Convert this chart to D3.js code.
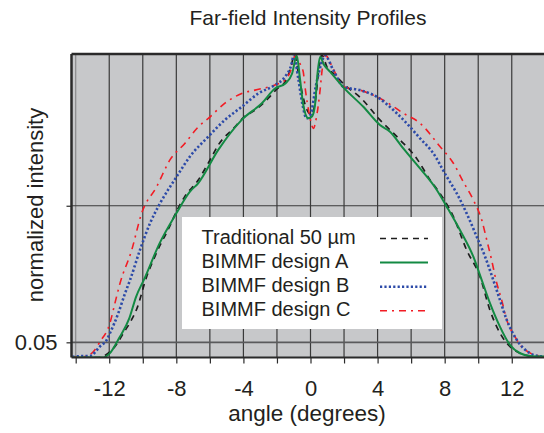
<!DOCTYPE html>
<html>
<head>
<meta charset="utf-8">
<script src="https://cdn.jsdelivr.net/npm/d3@7"></script>
<style>
  body { margin: 0; background: #fff; }
  svg { display: block; }
  text { font-family: "Liberation Sans", Arial, Helvetica, sans-serif; fill: #231f20; }
</style>
</head>
<body>
<svg id="chart" width="544" height="433"></svg>
<script>
// Far-field intensity profiles (normalized intensity vs. angle in degrees)
const angleTrad = [-14.2, -12.6, -12.06, -11.6, -11.16, -10.76, -10.36, -9.77, -9.3, -8.97, -8.5, -8, -7.5, -6.69, -6, -5.5, -4.5, -4, -3.31, -2.5, -2, -1.5, -1.2, -0.95, -0.7, -0.45, -0.2, 0.05, 0.3, 0.5, 0.67, 1.0, 1.36, 2, 3, 4.14, 5.34, 6.33, 7.13, 7.72, 8.52, 9.31, 10.11, 10.7, 11.3, 11.9, 12.49, 13.2, 14.2];
const traditional = [0.0, 0.0, 0.014, 0.04, 0.08, 0.115, 0.16, 0.266, 0.33, 0.37, 0.42, 0.48, 0.53, 0.585, 0.65, 0.70, 0.76, 0.79, 0.815, 0.855, 0.885, 0.91, 0.95, 0.997, 0.93, 0.86, 0.815, 0.80, 0.85, 0.95, 0.997, 0.955, 0.936, 0.9, 0.855, 0.783, 0.717, 0.656, 0.585, 0.541, 0.464, 0.354, 0.266, 0.156, 0.08, 0.036, 0.014, 0.004, 0.003];

const angleA = [-14.2, -12.4, -12, -11.4, -10.8, -10.4, -9.9, -9, -8, -7.2, -6.7, -5.5, -4.1, -2.9, -2.1, -1.5, -1.1, -0.82, -0.63, -0.43, -0.13, 0.1, 0.27, 0.41, 0.57, 0.8, 1.16, 1.96, 3.15, 4.14, 4.74, 5.53, 6.53, 7.53, 8.12, 8.91, 9.71, 10.21, 10.7, 11.3, 11.9, 12.5, 13.2, 14.2];
const designA = [0, 0, 0.012, 0.065, 0.13, 0.2, 0.26, 0.376, 0.475, 0.546, 0.574, 0.684, 0.783, 0.838, 0.887, 0.903, 0.935, 0.995, 0.92, 0.832, 0.788, 0.795, 0.832, 0.931, 0.99, 0.965, 0.942, 0.89, 0.826, 0.766, 0.744, 0.689, 0.623, 0.552, 0.497, 0.42, 0.332, 0.255, 0.179, 0.101, 0.041, 0.014, 0.004, 0.003];

const angleB = [-14.2, -13.94, -13.15, -12.56, -12.15, -11.96, -11.46, -11.06, -10.76, -10.17, -9.57, -8.97, -7.98, -7.19, -6.09, -5.1, -4.1, -3.11, -2.12, -1.52, -1.12, -1.0, -0.73, -0.5, -0.23, 0.0, 0.33, 0.6, 0.86, 1.36, 1.96, 2.95, 3.95, 5.14, 5.93, 6.53, 7.32, 8.12, 8.72, 9.31, 9.91, 10.41, 10.9, 11.3, 11.7, 12.3, 13.09, 13.7, 14.2];
const designB = [0.002, 0.004, 0.005, 0.036, 0.058, 0.08, 0.146, 0.211, 0.255, 0.354, 0.442, 0.508, 0.596, 0.662, 0.728, 0.783, 0.826, 0.87, 0.898, 0.925, 0.969, 0.997, 0.92, 0.84, 0.788, 0.80, 0.898, 0.96, 0.995, 0.947, 0.892, 0.881, 0.859, 0.805, 0.76, 0.722, 0.673, 0.596, 0.541, 0.475, 0.398, 0.332, 0.255, 0.189, 0.124, 0.058, 0.014, 0.004, 0.003];

const angleC = [-14.2, -13.5, -12.95, -12.55, -11.96, -11.66, -11.36, -10.66, -10.07, -9.17, -8.38, -7.48, -6.69, -6.09, -5.1, -4.1, -3.31, -2.12, -1.52, -1.15, -0.92, -0.6, -0.43, -0.3, -0.1, 0.17, 0.35, 0.55, 0.7, 0.86, 1.36, 1.96, 2.95, 4.34, 5.53, 6.53, 7.72, 8.52, 9.11, 9.71, 10.21, 10.51, 10.8, 11.06, 11.4, 11.7, 12.19, 12.69, 13.68, 14.2];
const designC = [0.002, 0.003, 0.019, 0.052, 0.113, 0.179, 0.244, 0.354, 0.475, 0.563, 0.651, 0.706, 0.76, 0.788, 0.838, 0.87, 0.881, 0.898, 0.914, 0.95, 0.995, 0.965, 0.94, 0.88, 0.81, 0.755, 0.79, 0.87, 0.95, 0.997, 0.95, 0.892, 0.881, 0.848, 0.805, 0.772, 0.695, 0.64, 0.579, 0.519, 0.453, 0.387, 0.321, 0.255, 0.189, 0.124, 0.069, 0.03, 0.005, 0.003];

const seriesNames = ["Traditional 50 µm", "BIMMF design A", "BIMMF design B", "BIMMF design C"];
const xTicks = [-14, -12, -10, -8, -6, -4, -2, 0, 2, 4, 6, 8, 10, 12, 14];
const xTickLabels = [-12, -8, -4, 0, 4, 8, 12];
const yTicks = [0.05, 0.5];
const yTickLabels = ["0.05", ""];

const titleText = "Far-field Intensity Profiles";
const xTitle = "angle (degrees)";
const yTitle = "normalized intensity";

// ---- layout ----
const plot = { left: 71.5, right: 549.5, top: 54, bottom: 357.5 };
const svg = d3.select("#chart");

const x = d3.scaleLinear().domain([-14.25, 14.25]).range([plot.left, plot.right]);
const y = d3.scaleLinear().domain([0, 1]).range([plot.bottom, plot.top]);

const series = [
  { name: seriesNames[0], xs: angleTrad, ys: traditional, color: "#1e1e1e", width: 1.7, dash: "6,5" },
  { name: seriesNames[3], xs: angleC, ys: designC, color: "#f21c24", width: 1.6, dash: "7,5,2,5" },
  { name: seriesNames[2], xs: angleB, ys: designB, color: "#2c4aa8", width: 2.6, dash: "2.2,2.2" },
  { name: seriesNames[1], xs: angleA, ys: designA, color: "#138a43", width: 2, dash: null }
];

// plot background
svg.append("rect")
  .attr("x", plot.left).attr("y", plot.top)
  .attr("width", plot.right - plot.left).attr("height", plot.bottom - plot.top)
  .attr("fill", "#c7c8ca");

svg.append("clipPath").attr("id", "plotClip")
  .append("rect")
  .attr("x", plot.left).attr("y", plot.top - 2)
  .attr("width", plot.right - plot.left).attr("height", plot.bottom - plot.top + 2);

// grid
const grid = svg.append("g");
grid.selectAll("line.vx").data(xTicks).join("line")
  .attr("x1", d => x(d)).attr("x2", d => x(d))
  .attr("y1", plot.top).attr("y2", plot.bottom)
  .attr("stroke", d => d === -14 ? "#8a8a8c" : "#3a3a3a")
  .attr("stroke-width", 1.2);
grid.selectAll("line.hy").data(yTicks).join("line")
  .attr("x1", plot.left).attr("x2", plot.right)
  .attr("y1", d => y(d)).attr("y2", d => y(d))
  .attr("stroke", d => d === 0.05 ? "#5a5a5c" : "#3a3a3a")
  .attr("stroke-width", d => d === 0.05 ? 1.6 : 1.2);

// curves
const line = d3.line()
  .x(d => x(d[0])).y(d => y(d[1]))
  .curve(d3.curveMonotoneX);

svg.append("g").attr("clip-path", "url(#plotClip)")
  .selectAll("path").data(series).join("path")
  .attr("d", s => line(d3.zip(s.xs, s.ys)))
  .attr("fill", "none")
  .attr("stroke", s => s.color)
  .attr("stroke-width", s => s.width)
  .attr("stroke-dasharray", s => s.dash)
  .attr("stroke-linejoin", "round");

// frame
const frame = svg.append("g").attr("stroke", "#2a2a2a").attr("fill", "none");
frame.append("line").attr("x1", plot.left).attr("x2", plot.right).attr("y1", plot.top).attr("y2", plot.top).attr("stroke-width", 2.5);
frame.append("line").attr("x1", plot.left).attr("x2", plot.left).attr("y1", plot.top).attr("y2", plot.bottom).attr("stroke-width", 2.5);
frame.append("line").attr("x1", plot.left).attr("x2", plot.right).attr("y1", plot.bottom).attr("y2", plot.bottom).attr("stroke-width", 2);

// axes
const xAxis = svg.append("g")
  .attr("transform", `translate(0,${plot.bottom})`)
  .call(d3.axisBottom(x).tickValues(xTicks).tickSize(6).tickPadding(17)
    .tickFormat(d => xTickLabels.includes(d) ? String(d) : ""));
xAxis.select(".domain").remove();
xAxis.selectAll(".tick line").attr("stroke", "#2a2a2a").attr("stroke-width", 1.2);
xAxis.selectAll(".tick text").attr("font-size", 22).attr("font-family", null).attr("fill", "#231f20");

const yAxis = svg.append("g")
  .attr("transform", `translate(${plot.left},0)`)
  .call(d3.axisLeft(y).tickValues(yTicks).tickSize(5).tickPadding(9)
    .tickFormat((d, i) => yTickLabels[i]));
yAxis.select(".domain").remove();
yAxis.selectAll(".tick line").attr("stroke", "#2a2a2a").attr("stroke-width", 1.2);
yAxis.selectAll(".tick text").attr("font-size", 22).attr("font-family", null).attr("fill", "#231f20");

// titles
svg.append("text").attr("x", 308).attr("y", 25)
  .attr("text-anchor", "middle").attr("font-size", 21).text(titleText);
svg.append("text").attr("x", 307).attr("y", 421)
  .attr("text-anchor", "middle").attr("font-size", 22.5).text(xTitle);
svg.append("text")
  .attr("transform", "translate(43,205) rotate(-90)")
  .attr("text-anchor", "middle").attr("font-size", 22).text(yTitle);

// legend
const legend = svg.append("g");
legend.append("rect")
  .attr("x", 182).attr("y", 217).attr("width", 260).attr("height", 112)
  .attr("fill", "#ffffff");
const legendOrder = [0, 3, 2, 1].map(i => series[i]);
const rows = legend.selectAll("g.row").data(legendOrder).join("g")
  .attr("transform", (d, i) => `translate(0,${244 + i * 24.1})`);
rows.append("text").attr("x", 201.5).attr("y", 0).attr("font-size", 20).text(d => d.name);
rows.append("line")
  .attr("x1", 380).attr("x2", 428).attr("y1", -5.5).attr("y2", -5.5)
  .attr("stroke", d => d.color)
  .attr("stroke-width", d => d.width)
  .attr("stroke-dasharray", d => d.dash);
</script>
</body>
</html>
